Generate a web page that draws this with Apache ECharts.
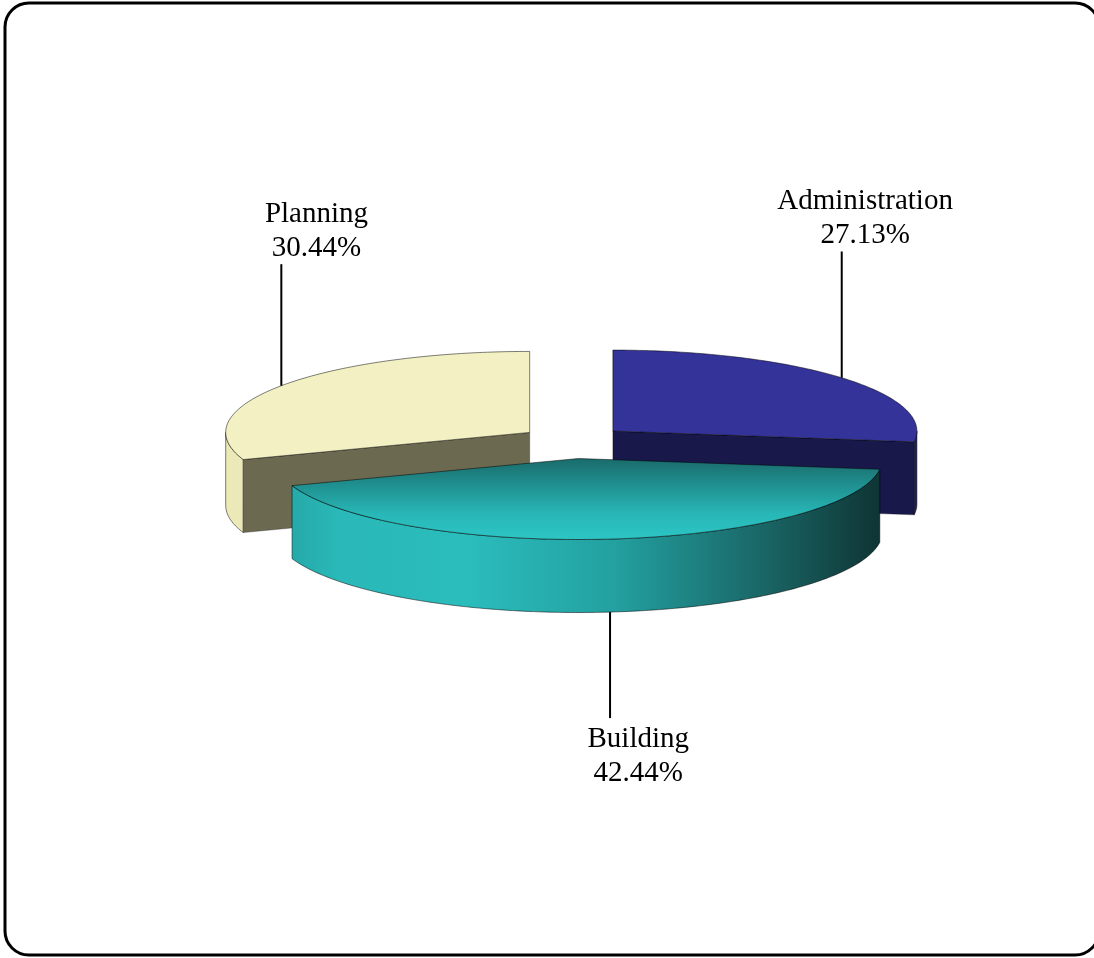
<!DOCTYPE html>
<html>
<head>
<meta charset="utf-8">
<script src="https://cdn.jsdelivr.net/npm/echarts@6/dist/echarts.min.js"></script>
<style>
  html, body { margin: 0; padding: 0; background: #ffffff; }
  #chart { width: 1094px; height: 958px; }
</style>
</head>
<body>
<div id="chart"></div>
<script>
// Budget split by department (percent of total)
const categories = ['Administration', 'Building', 'Planning'];
const shares = [27.13, 42.44, 30.44];

// Face colours per slice
const palette = {
  Administration: { top: '#333399', side: '#18184a', wall: '#1f1f5e' },
  Building: {
    top: {
      type: 'linear', x: 0, y: 0, x2: 0, y2: 1,
      colorStops: [
        { offset: 0, color: '#1a6a6a' },
        { offset: 0.35, color: '#209292' },
        { offset: 0.7, color: '#29b8b8' },
        { offset: 1, color: '#2dc5c5' }
      ]
    },
    side: '#1b6b6b',
    wall: {
      type: 'linear', x: 0, y: 0, x2: 1, y2: 0,
      colorStops: [
        { offset: 0, color: '#26a9a9' },
        { offset: 0.08, color: '#2ab8b8' },
        { offset: 0.3, color: '#2bbcbc' },
        { offset: 0.55, color: '#23a0a0' },
        { offset: 0.8, color: '#1a6666' },
        { offset: 1, color: '#0f3434' }
      ]
    }
  },
  Planning: { top: '#f3f1c3', side: '#6c6951', wall: '#ebe9b8' }
};

// Projection of the tilted disc
const geom = {
  cx: 573, cy: 442,     // disc centre
  rx: 304, ry: 81,      // ellipse radii of the top face
  depth: 73,            // disc thickness
  explodeX: 53, explodeY: 16.6,
  labelUp: 124, labelUpLean: 3, labelDown: 106,
  labelShift: 29, labelLean: 7.5
};

const total = shares.reduce((s, v) => s + v, 0);

// Slices run clockwise from twelve o'clock
function sliceAngles(i) {
  let before = 0;
  for (let k = 0; k < i; k++) before += shares[k];
  const end = Math.PI / 2 - before / total * 2 * Math.PI;
  const start = end - shares[i] / total * 2 * Math.PI;
  return [start, end];
}

function arcPoints(ox, oy, a0, a1, dy) {
  const pts = [];
  const n = Math.max(2, Math.ceil(Math.abs(a1 - a0) / (Math.PI / 180)));
  for (let k = 0; k <= n; k++) {
    const t = a0 + (a1 - a0) * k / n;
    pts.push([ox + geom.rx * Math.cos(t), oy - geom.ry * Math.sin(t) + dy]);
  }
  return pts;
}

const edge = 'rgba(0,0,0,0.5)';

function renderItem(params, api) {
  const i = params.dataIndex;
  const name = categories[i];
  const colors = palette[name];
  const [a, b] = sliceAngles(i);
  const mid = (a + b) / 2;
  const ox = geom.cx + geom.explodeX * Math.cos(mid);
  const oy = geom.cy - geom.explodeY * Math.sin(mid);
  const d = geom.depth;
  const base = Math.round((1 - Math.sin(mid)) * 50);
  const children = [];

  // outer wall: the part of the rim facing the viewer
  for (let k = -2; k <= 2; k++) {
    const lo = Math.max(a, -Math.PI + 2 * Math.PI * k);
    const hi = Math.min(b, 2 * Math.PI * k);
    if (hi - lo > 1e-4) {
      const topArc = arcPoints(ox, oy, lo, hi, 0);
      const botArc = arcPoints(ox, oy, hi, lo, d);
      children.push({
        type: 'polygon', z2: base,
        shape: { points: topArc.concat(botArc) },
        style: { fill: colors.wall, stroke: edge, lineWidth: 1 }
      });
    }
  }

  // radial cut faces
  const cutFace = (t) => {
    const px = ox + geom.rx * Math.cos(t), py = oy - geom.ry * Math.sin(t);
    children.push({
      type: 'polygon', z2: base,
      shape: { points: [[ox, oy], [px, py], [px, py + d], [ox, oy + d]] },
      style: { fill: colors.side, stroke: edge, lineWidth: 0.6 }
    });
  };
  if (Math.cos(a) > 1e-6) cutFace(a);
  if (Math.cos(b) < -1e-6) cutFace(b);

  // top face
  children.push({
    type: 'polygon', z2: base + 1,
    shape: { points: [[ox, oy]].concat(arcPoints(ox, oy, a, b, 0)) },
    style: { fill: colors.top, stroke: edge, lineWidth: 1 }
  });

  // leader line and label
  const lx = ox + geom.rx * Math.cos(mid);
  const tx = lx + geom.labelShift - geom.labelLean * Math.cos(mid);
  const back = Math.sin(mid) > 0;
  const text = name + '\n' + api.value(0).toFixed(2) + '%';
  const font = '29px "Liberation Serif", "Times New Roman", serif';
  if (back) {
    const ly = oy - geom.ry * Math.sin(mid);
    const top = ly - geom.labelUp - geom.labelUpLean * Math.cos(mid);
    children.push({
      type: 'line', z2: 200,
      shape: { x1: lx, y1: ly, x2: lx, y2: top },
      style: { stroke: '#000', lineWidth: 2 }
    });
    children.push({
      type: 'text', z2: 200, x: tx, y: top + 1,
      style: { text, font, fill: '#000', align: 'center', verticalAlign: 'bottom', lineHeight: 34 }
    });
  } else {
    const ly = oy - geom.ry * Math.sin(mid) + d;
    const bottom = ly + geom.labelDown;
    children.push({
      type: 'line', z2: 200,
      shape: { x1: lx, y1: ly, x2: lx, y2: bottom },
      style: { stroke: '#000', lineWidth: 2 }
    });
    children.push({
      type: 'text', z2: 200, x: tx, y: bottom + 4,
      style: { text, font, fill: '#000', align: 'center', verticalAlign: 'top', lineHeight: 34 }
    });
  }

  return { type: 'group', children };
}

const chart = echarts.init(document.getElementById('chart'), null, { renderer: 'canvas' });
chart.setOption({
  backgroundColor: '#ffffff',
  animation: false,
  graphic: [{
    type: 'rect', silent: true, z: 10,
    shape: { x: 5, y: 3, width: 1094, height: 952, r: 24 },
    style: { fill: 'none', stroke: '#000', lineWidth: 3 }
  }],
  series: [{
    type: 'custom',
    coordinateSystem: 'none',
    silent: true,
    renderItem,
    data: categories.map((n, i) => ({ name: n, value: [shares[i]] }))
  }]
});
</script>
</body>
</html>
